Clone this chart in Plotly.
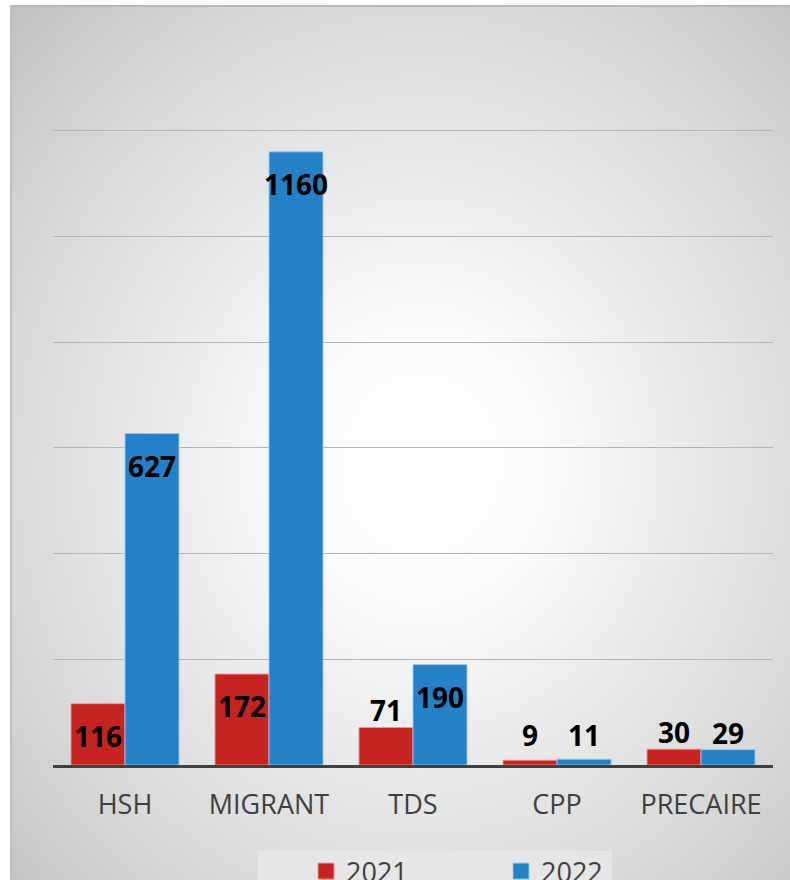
import plotly.graph_objects as go
import urllib.parse

categories = ["HSH", "MIGRANT", "TDS", "CPP", "PRECAIRE"]
values_2021 = [116, 172, 71, 9, 30]
values_2022 = [627, 1160, 190, 11, 29]
series_names = ["2021", "2022"]
y_ticks = [0, 200, 400, 600, 800, 1000, 1200, 1400]

RED = "#C4231F"
BLUE = "#2481C8"
FONT = "Open Sans"

W, H = 790, 880
ML, MT = 53, 25
PW, PH = 720, 740
MR, MB = W - ML - PW, H - MT - PH


def px_x(p):
    return (p - ML) / PW


def px_y(p):
    return (MT + PH - p) / PH


fig = go.Figure()
for name, vals, col, edge in [
    (series_names[0], values_2021, RED, "rgba(240,150,150,0.9)"),
    (series_names[1], values_2022, BLUE, "rgba(150,200,240,0.9)"),
]:
    fig.add_trace(go.Bar(
        x=categories, y=vals, name=name, showlegend=False,
        marker=dict(color=col, line=dict(color=edge, width=1)),
        hoverinfo="x+y",
    ))
    fig.add_trace(go.Scatter(
        x=[None], y=[None], mode="markers", name=name, showlegend=True,
        marker=dict(symbol="square", size=16, color=col, line=dict(color=edge, width=1)),
    ))

# data labels
annotations = []
for vals, xs in [(values_2021, -27), (values_2022, 27)]:
    for c, v in zip(categories, vals):
        if v >= 100:
            annotations.append(dict(x=c, y=v, xref="x", yref="y", text=f"<b>{v}</b>",
                                    showarrow=False, xshift=xs, yshift=-32, yanchor="middle",
                                    font=dict(family=FONT, size=28, color="black")))
        else:
            annotations.append(dict(x=c, y=max(v, 25), xref="x", yref="y", text=f"<b>{v}</b>",
                                    showarrow=False, xshift=xs, yshift=-4, yanchor="bottom",
                                    font=dict(family=FONT, size=28, color="black")))

# radial gradient panel as svg image
svg = (
    '<svg xmlns="http://www.w3.org/2000/svg" width="780" height="880" viewBox="0 0 780 880" preserveAspectRatio="none">'
    '<defs><radialGradient id="g" cx="0.52" cy="0.52" r="0.75">'
    '<stop offset="0" stop-color="#ffffff"/>'
    '<stop offset="0.2" stop-color="#fbfbfb"/>'
    '<stop offset="0.7" stop-color="#d9d9d9"/>'
    '<stop offset="1" stop-color="#c0c0c0"/>'
    '</radialGradient></defs>'
    '<rect x="0" y="0" width="780" height="880" fill="url(#g)"/>'
    '<line x1="0" y1="1" x2="780" y2="1" stroke="#b8b8b8" stroke-width="2"/>'
    '<line x1="1" y1="0" x2="1" y2="880" stroke="#c0c0c0" stroke-width="2"/>'
    '</svg>'
)
src = "data:image/svg+xml;charset=utf-8," + urllib.parse.quote(svg)

fig.update_layout(
    width=W, height=H,
    margin=dict(l=ML, r=MR, t=MT, b=MB, pad=0, autoexpand=False),
    paper_bgcolor="white",
    plot_bgcolor="rgba(0,0,0,0)",
    barmode="group",
    bargap=0.25,
    bargroupgap=0,
    showlegend=True,
    legend=dict(orientation="h", x=px_x(306), xanchor="left", y=px_y(847), yanchor="top",
                bgcolor="rgba(0,0,0,0)", font=dict(family=FONT, size=27, color="#404040"),
                entrywidth=150, entrywidthmode="pixels",
                itemwidth=30, tracegroupgap=0),
    images=[dict(source=src, xref="paper", yref="paper", x=px_x(10), y=px_y(5),
                 sizex=px_x(800) - px_x(10), sizey=px_y(5) - px_y(890),
                 sizing="stretch", layer="below", xanchor="left", yanchor="top")],
    shapes=[dict(type="rect", xref="paper", yref="paper", x0=px_x(258), x1=px_x(612),
                 y0=px_y(851), y1=px_y(890), fillcolor="rgba(232,232,232,0.85)",
                 line=dict(width=0), layer="below")],
    annotations=annotations,
    font=dict(family=FONT),
)
fig.update_xaxes(showline=True, linecolor="#404040", linewidth=3, showgrid=False,
                 ticks="", tickfont=dict(family=FONT, size=27, color="#404040"),
                 ticklabelstandoff=14, fixedrange=True, range=[-0.5, 4.5])
fig.update_yaxes(range=[0, 1400], tickvals=y_ticks, showticklabels=False, showgrid=True,
                 gridcolor="#b4b4b4", gridwidth=1, zeroline=False, showline=False, fixedrange=True)

fig.write_html(
    "out.html",
    config={"displayModeBar": False},
    post_script="document.body.style.margin='0';document.body.style.overflow='hidden';",
)
